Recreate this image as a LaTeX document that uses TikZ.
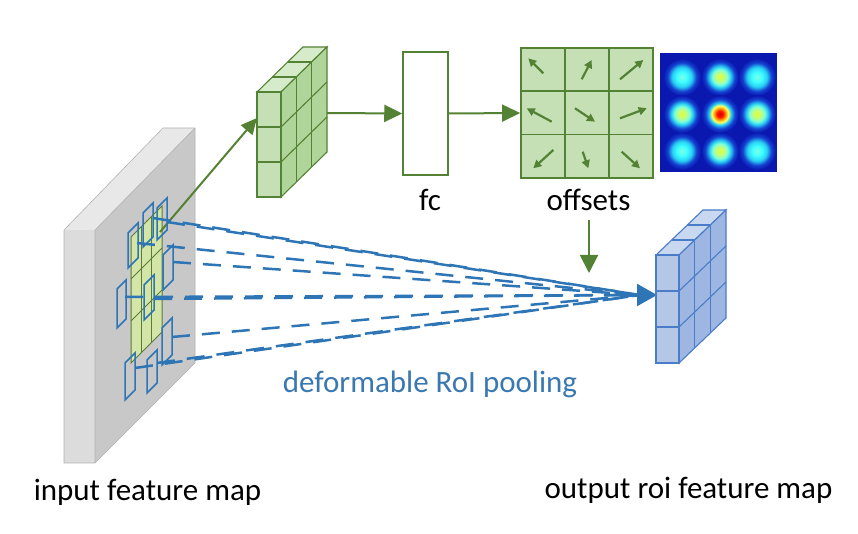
\documentclass[tikz,border=0pt]{standalone}
\usepackage{fontspec}
\setmainfont{Carlito}
\usetikzlibrary{arrows.meta,calc}
\definecolor{gline}{HTML}{548235}
\definecolor{gfront}{HTML}{C5E0B4}
\definecolor{gtop}{HTML}{D6EBC9}
\definecolor{gside}{HTML}{B0D59A}
\definecolor{bline}{HTML}{4A7CC8}
\definecolor{bfront}{HTML}{B4C7E7}
\definecolor{btop}{HTML}{C9D8F1}
\definecolor{bside}{HTML}{9DB6E2}
\definecolor{dblue}{HTML}{2E75B6}
\definecolor{lblue}{HTML}{3A78B0}
\definecolor{slabside}{HTML}{DCDCDC}
\definecolor{slabtop}{HTML}{E8E8E8}
\definecolor{slabfront}{HTML}{C8C8C8}
\definecolor{roifill}{HTML}{D3E6A8}
\definecolor{roiline}{HTML}{5C7A38}
\definecolor{hbg}{HTML}{0A18B0}
\definecolor{hmid}{HTML}{1440D0}
\definecolor{hcyan}{HTML}{28D0F4}
\pgfdeclareradialshading{blobA}{\pgfpoint{0bp}{0bp}}{color(0bp)=(cyan!45!white!90!green); color(6.6bp)=(cyan!75!white); color(13bp)=(hcyan); color(19bp)=(hmid); color(24.5bp)=(hbg); color(50bp)=(hbg)}
\pgfdeclareradialshading{blobB}{\pgfpoint{0bp}{0bp}}{color(0bp)=(yellow!85!green!80!white); color(5.5bp)=(yellow!50!green!50!white); color(10bp)=(green!30!cyan!50!white); color(14bp)=(hcyan); color(19.5bp)=(hmid); color(24.5bp)=(hbg); color(50bp)=(hbg)}
\pgfdeclareradialshading{blobC}{\pgfpoint{0bp}{0bp}}{color(0bp)=(red!85!black); color(4.4bp)=(red!80!orange); color(7.7bp)=(orange!70!yellow); color(11bp)=(yellow!60!white); color(14.3bp)=(hcyan); color(19.5bp)=(hmid); color(24.5bp)=(hbg); color(50bp)=(hbg)}
\tikzset{
  lbl/.style={font=\fontsize{31}{37}\selectfont, inner sep=0pt, anchor=base},
  garrow/.style={draw=gline, line width=2pt, -{Triangle[length=18pt,width=17pt]}},
  oarrow/.style={draw=gline, line width=2.2pt, -{Triangle[length=8pt,width=8pt]}},
  dline/.style={draw=dblue, line width=2.5pt, dash pattern=on 18pt off 12pt},
  binline/.style={draw=dblue, line width=1.5pt},
}
% #1 x0, #2 y0 (front top-left), #3 w, #4 h, #5 dx, #6 dy, #7 front, #8 top, #9 side
\newcommand{\drawcube}[9]{%
  \filldraw[fill=#8] (#1,#2) -- ++(#5,#6) -- ++(#3,0) -- ++(-#5,-#6) -- cycle;
  \filldraw[fill=#9] (#1+#3,#2) -- ++(#5,#6) -- ++(0,#4) -- ++(-#5,-#6) -- cycle;
  \filldraw[fill=#7] (#1,#2) rectangle ++(#3,#4);
  \foreach \k in {1,2}{
    \draw (#1+#5*\k/3,#2+#6*\k/3) -- ++(#3,0);
    \draw (#1+#3+#5*\k/3,#2+#6*\k/3) -- ++(0,#4);
    \draw (#1+#3,#2+#4*\k/3) -- ++(#5,#6);
    \draw (#1,#2+#4*\k/3) -- ++(#3,0);
  }
}
\newcommand{\bin}[4]{\draw[binline] (#1,#3+#2-#1) -- (#2,#3) -- (#2,#4-#2+#1) -- (#1,#4) -- cycle;}
\begin{document}
\begin{tikzpicture}[x=1pt,y=-1pt]
\useasboundingbox (0,0) rectangle (858,534);
% input slab
\fill[slabside] (64,230) -- (95,230) -- (95,463) -- (64,463) -- cycle;
\fill[slabtop] (64,230) -- (163,128) -- (195,128) -- (95,230) -- cycle;
\fill[slabfront] (95,230) -- (195,128) -- (195,363) -- (95,463) -- cycle;
\draw[gray!60, line width=0.6pt] (64,230) -- (163,128) -- (195,128) -- (195,363) -- (95,463) -- (64,463) -- cycle (95,230) -- (195,128) (95,230) -- (95,463);
\coordinate (slab) at (130,300);
% RoI
\filldraw[fill=roifill, draw=roiline, line width=1pt] (131,237) -- (162,206) -- (162,332) -- (131,363) -- cycle;
\foreach \k in {1,2}{
  \draw[roiline, line width=1pt] (131+31*\k/3,237-31*\k/3) -- ++(0,126);
  \draw[roiline, line width=1pt] (131,237+42*\k) -- (162,206+42*\k);
}
% green cube
\begin{scope}[draw=gline, line width=1.1pt]
\drawcube{257}{92}{24}{105}{46}{-45}{gfront}{gtop}{gside}
\end{scope}
\coordinate (gcubeL) at (257,118);
\coordinate (gcubeR) at (327,113);
\coordinate (roiS) at (160,232);
\draw[draw=gline, line width=2pt, -{Triangle[length=16pt,width=15pt]}] (roiS) -- (gcubeL);
% bins
\bin{128}{138}{223}{268}
\bin{143}{153}{203}{247}
\bin{157}{167}{198}{240}
\bin{163}{173}{245}{290}
\bin{117}{126}{280}{328}
\bin{144}{154}{275}{320}
\bin{162}{172}{318}{365}
\bin{125}{135}{353}{400}
\bin{147}{157}{350}{393}
% dashed lines
\coordinate (tip) at (657,295);
\coordinate (tipS) at (640,295);
\coordinate (s1) at (153,218);
\coordinate (s2) at (167,222);
\coordinate (s3) at (137,243);
\coordinate (s4) at (173,262);
\coordinate (s5) at (125,297);
\coordinate (s6) at (154,299);
\coordinate (s7) at (172,337);
\coordinate (s8) at (135,368);
\coordinate (s9) at (157,363);
\foreach \s in {s1,s2,s3,s4,s5,s6,s7,s8,s9}{
  \draw[dline] (\s) -- (tipS);
}
\draw[draw=dblue, line width=2.5pt, -{Triangle[length=20pt,width=22pt]}] (tipS) -- (tip);
% fc
\node (fc) [draw=gline, line width=1.5pt, fill=white, minimum width=45pt, minimum height=123pt, inner sep=0pt] at (425.5,113.5) {};
\draw[garrow] (gcubeR) -- (fc.west);
% offsets grid
\node (grid) [draw=gline, line width=1.8pt, fill=gfront, minimum width=132pt, minimum height=130pt, inner sep=0pt] at (587,113) {};
\draw[garrow] (fc.east) -- (grid.west);
\foreach \k in {1,2}{
  \draw[gline, line width=1.8pt] (521+44*\k,48) -- (521+44*\k,178);
  \draw[gline, line width=1.8pt] (521,48+43.3*\k) -- (653,48+43.3*\k);
}
\draw[oarrow] (543.3,73.3) -- (528.3,58.3);
\draw[oarrow] (581.7,79.3) -- (591.7,60);
\draw[oarrow] (620,79.3) -- (643.3,60);
\draw[oarrow] (551.7,121.7) -- (526.7,108.3);
\draw[oarrow] (575,108.3) -- (595,121.7);
\draw[oarrow] (620,118.3) -- (646.7,108.3);
\draw[oarrow] (553.3,150) -- (533.3,168.3);
\draw[oarrow] (582.7,151.7) -- (588.3,168.3);
\draw[oarrow] (621.7,151.7) -- (640,168.3);
% heatmap
\node (heat) [fill=hbg, minimum width=117pt, minimum height=119pt, inner sep=0pt] at (718.5,112.5) {};
\begin{scope}
\clip (heat.north west) rectangle (heat.south east);
\foreach \x/\y in {682/77, 757/77, 682/151, 757/151}{
  \shade[shading=blobA] (\x,\y) circle (19);
}
\foreach \x/\y in {720/77, 682/114, 757/114, 720/151}{
  \shade[shading=blobB] (\x,\y) circle (19);
}
\shade[shading=blobC] (720,114) circle (19);
\end{scope}
% labels
\node (fclbl) [lbl] at (430,211) {fc};
\node (offlbl) [lbl] at (588.5,211) {offsets};
\coordinate (offA) at (589,220);
\coordinate (offB) at (589,273);
\draw[draw=gline, line width=2pt, -{Triangle[length=18pt,width=18pt]}] (offA) -- (offB);
% blue cube
\begin{scope}[draw=bline, line width=1.1pt]
\drawcube{656}{255}{23}{108}{47}{-45}{bfront}{btop}{bside}
\end{scope}
\node (pool) [lbl, text=lblue] at (430,392) {deformable RoI pooling};
\node (inlbl) [lbl] at (147.5,500) {input feature map};
\node (outlbl) [lbl] at (688.5,498) {output roi feature map};
\end{tikzpicture}
\end{document}
